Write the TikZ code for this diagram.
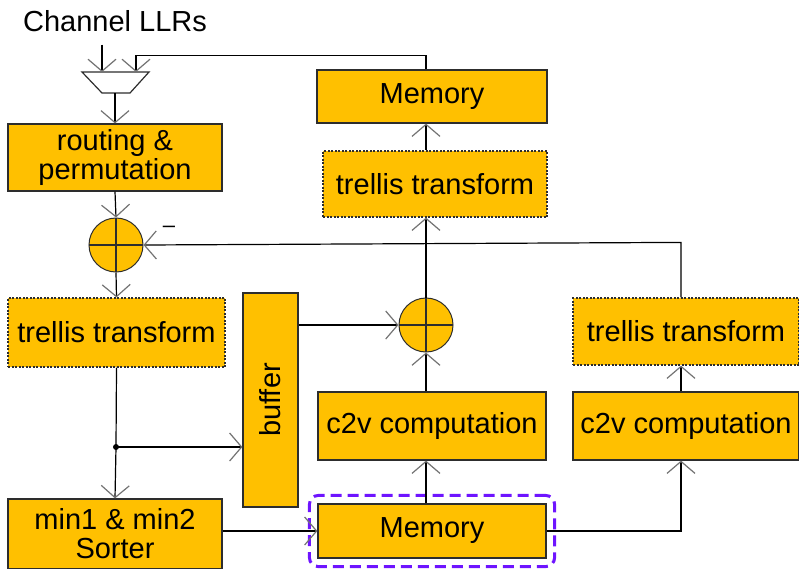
\documentclass[tikz,border=0pt]{standalone}
\usepackage{fontspec}
\setmainfont{Liberation Sans}
\usetikzlibrary{arrows.meta,fit}
\definecolor{blkfill}{RGB}{255,192,0}
\definecolor{blkline}{RGB}{45,45,45}
\definecolor{selline}{RGB}{110,20,255}
\begin{document}
\begin{tikzpicture}[x=1pt,y=-1pt,
		blk/.style={draw=blkline, fill=blkfill, line width=1.2pt, inner sep=0pt, align=center, font=\fontsize{29}{29}\selectfont},
		dotblk/.style={blk, dash pattern=on 2pt off 1.5pt},
		sumnode/.style={circle, draw=blkline, fill=blkfill, line width=1pt, minimum size=54pt, inner sep=0pt,
			path picture={\draw[line width=1.6pt, blkline] (path picture bounding box.north) -- (path picture bounding box.south)
				(path picture bounding box.west) -- (path picture bounding box.east);}},
		arr/.style={-{Straight Barb[length=12pt,width=28pt,color=black!55]}},
		every path/.style={line width=1.2pt}]
		\useasboundingbox (0,0) rectangle (799,568);
		
		\node[font=\fontsize{29}{29}\selectfont] (llr) at (115,21) {Channel LLRs};
		\draw[blkline] (82,72) -- (149,72) -- (130,93) -- (102,93) -- cycle;
		\coordinate (mi1) at (102,72);
		\coordinate (mi2) at (136,72);
		\coordinate (mo) at (115,93);
		
		\node[blk, minimum width=214pt, minimum height=67pt] (route) at (115,157.5) {routing \&\\permutation};
		\node[sumnode] (s1) at (116,245) {};
		\node[dotblk, minimum width=217pt, minimum height=69pt] (ltrel) at (116.5,332.5) {trellis transform};
		\node[blk, minimum width=214pt, minimum height=70pt] (sorter) at (115,534) {min1 \& min2\\Sorter};
		
		\node[blk, minimum width=55pt, minimum height=214pt] (buffer) at (270.5,400) {};
		\node[rotate=90, font=\fontsize{29}{29}\selectfont] (buftxt) at (buffer) {buffer};
		
		\node[blk, minimum width=230pt, minimum height=53pt] (tmem) at (432,96.5) {Memory};
		\node[dotblk, minimum width=224pt, minimum height=66pt] (ttrel) at (435,184) {trellis transform};
		\node[sumnode] (s2) at (426,325) {};
		\node[blk, minimum width=228pt, minimum height=68pt] (c2va) at (432,426) {c2v computation};
		\node[blk, minimum width=228pt, minimum height=54pt] (bmem) at (432,531) {Memory};
		\node[draw=selline, line width=3pt, dash pattern=on 11pt off 6pt, rounded corners=9pt, fit=(bmem),
			inner xsep=8pt, inner ysep=8pt] (sel) {};
		
		\node[blk, minimum width=226pt, minimum height=68pt] (c2vb) at (686,426) {c2v computation};
		\node[dotblk, minimum width=226pt, minimum height=67pt] (rtrel) at (686,331.5) {trellis transform};
		\coordinate (rc) at (681,0);
		
		\draw[arr] ([yshift=-9pt]llr.south -| mi1) -- (mi1);
		\draw[arr] (tmem.north -| s2) -- ++(0,-14) -| (mi2);
		\draw[arr] (mo) -- (mo |- route.north);
		\draw[arr] (route.south) -- (s1.north);
		\draw[arr] (s1.south) -- (ltrel.north);
		\draw[arr] (rtrel.north -| rc) -- ++(0,-55) -- (s1.east);
		\node[font=\fontsize{22}{24}\selectfont] (minus) at (169,229) {–};
		
		\coordinate (jn) at (116,447);
		\draw (ltrel.south) -- (jn);
		\draw[arr] (jn) -- (sorter.north);
		\draw[arr] (jn) -- (jn -| buffer.west);
		\fill (jn) circle (3pt);
		
		\draw[arr] (buffer.east |- s2) -- (s2.west);
		\draw[arr] (s2.north) -- (s2.north |- ttrel.south);
		\draw[arr] (s2.north |- ttrel.north) -- (s2.north |- tmem.south);
		\draw[arr] (s2.north |- c2va.north) -- (s2.south);
		\draw[arr] (s2.north |- bmem.north) -- (s2.north |- c2va.south);
		\draw[arr] (bmem.east) -| (rc |- c2vb.south);
		\draw[arr] (rc |- c2vb.north) -- (rc |- rtrel.south);
		\draw[arr] (sorter.east |- bmem.west) -- (bmem.west);
	\end{tikzpicture}
\end{document}
